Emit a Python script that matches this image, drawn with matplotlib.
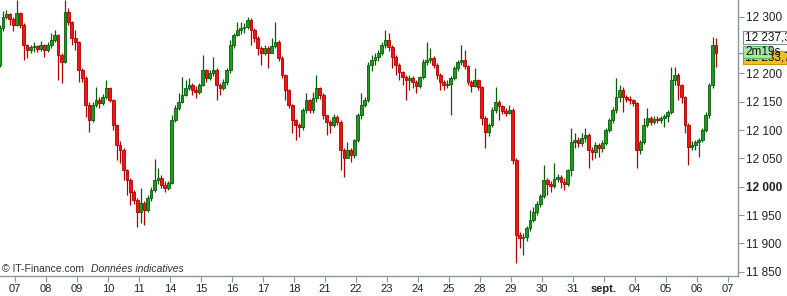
import matplotlib
matplotlib.use("Agg")
import matplotlib.pyplot as plt
from matplotlib.patches import Rectangle

plt.rcParams['font.family'] = ['Liberation Sans', 'DejaVu Sans']

# hourly candles, Aug 4 (partial) -> Sep 6 (partial)
day_labels = ["07", "08", "09", "10", "11", "14", "15", "16", "17", "18", "21", "22",
              "23", "24", "25", "28", "29", "30", "31", "sept.", "04", "05", "06", "07"]
day_counts = [5] + [9] * 22 + [6]
first_open = 12215

closes = [
    12280, 12300, 12305, 12295, 12285,
    12306, 12285, 12250, 12241, 12246, 12248, 12243, 12250, 12241,
    12250, 12259, 12268, 12232, 12220, 12308, 12290, 12262, 12255,
    12206, 12192, 12144, 12118, 12144, 12153, 12148, 12158, 12174,
    12153, 12109, 12074, 12065, 12029, 12012, 11991, 11976, 11955,
    11971, 11959, 11980, 11994, 12012, 12015, 12003, 11998, 12006,
    12118, 12139, 12150, 12162, 12174, 12179, 12171, 12167, 12179,
    12206, 12192, 12200, 12206, 12179, 12174, 12185, 12206, 12250,
    12268, 12277, 12280, 12282, 12294, 12277, 12262, 12245, 12236,
    12245, 12236, 12248, 12255, 12227, 12197, 12171, 12144, 12118,
    12109, 12105, 12135, 12153, 12135, 12156, 12174, 12162, 12127,
    12114, 12109, 12123, 12114, 12065, 12051, 12065, 12056, 12082,
    12127, 12144, 12153, 12215, 12224, 12229, 12236, 12250, 12259,
    12246, 12229, 12215, 12202, 12193, 12188, 12192, 12185, 12178,
    12193, 12220, 12224, 12227, 12215, 12197, 12185, 12179, 12181,
    12192, 12209, 12220, 12224, 12213, 12185, 12178, 12188, 12176,
    12121, 12096, 12109, 12135, 12150, 12142, 12134, 12130, 12135,
    12047, 11915, 11909, 11911, 11927, 11941, 11955, 11969, 11983,
    12012, 12005, 12001, 12013, 12017, 12008, 12005, 12029, 12079,
    12082, 12077, 12086, 12091, 12065, 12061, 12074, 12068, 12077,
    12100, 12118, 12135, 12158, 12171, 12158, 12155, 12153, 12148,
    12065, 12079, 12109, 12121, 12114, 12120, 12118, 12121, 12125,
    12132, 12188, 12197, 12179, 12158, 12109, 12070, 12074, 12079,
    12082, 12100, 12127, 12179, 12250, 12236,
]
highs = [
    12285, 12310, 12312, 12306, 12300,
    12329, 12308, 12288, 12252, 12250, 12255, 12250, 12257, 12252,
    12255, 12271, 12277, 12270, 12235, 12329, 12315, 12292, 12277,
    12257, 12210, 12195, 12150, 12150, 12176, 12158, 12163, 12188,
    12176, 12155, 12110, 12080, 12068, 12032, 12015, 11995, 11980,
    11997, 11975, 11985, 12000, 12049, 12033, 12021, 12010, 12010,
    12127, 12145, 12165, 12193, 12188, 12191, 12183, 12178, 12183,
    12232, 12208, 12206, 12229, 12210, 12183, 12190, 12210, 12259,
    12272, 12290, 12290, 12288, 12300, 12298, 12280, 12265, 12248,
    12250, 12248, 12262, 12290, 12258, 12230, 12198, 12172, 12146,
    12120, 12112, 12138, 12165, 12155, 12167, 12197, 12176, 12165,
    12125, 12118, 12128, 12127, 12118, 12068, 12079, 12068, 12085,
    12130, 12165, 12158, 12220, 12232, 12235, 12241, 12255, 12277,
    12271, 12250, 12232, 12218, 12205, 12197, 12197, 12195, 12188,
    12196, 12225, 12255, 12245, 12230, 12218, 12200, 12188, 12188,
    12195, 12213, 12224, 12250, 12241, 12215, 12188, 12209, 12190,
    12178, 12125, 12112, 12140, 12176, 12153, 12145, 12138, 12144,
    12138, 12050, 11920, 11918, 11930, 11959, 11964, 11975, 11987,
    12038, 12015, 12010, 12042, 12022, 12020, 12015, 12032, 12104,
    12095, 12088, 12095, 12104, 12095, 12070, 12078, 12077, 12082,
    12103, 12122, 12140, 12192, 12179, 12176, 12162, 12160, 12155,
    12150, 12083, 12121, 12139, 12125, 12124, 12124, 12125, 12128,
    12135, 12211, 12211, 12200, 12182, 12160, 12112, 12080, 12082,
    12086, 12104, 12132, 12183, 12264, 12262,
]
lows = [
    12212, 12275, 12296, 12285, 12275,
    12284, 12280, 12224, 12227, 12236, 12238, 12238, 12240, 12229,
    12238, 12245, 12255, 12188, 12183, 12218, 12285, 12250, 12241,
    12185, 12185, 12123, 12096, 12115, 12140, 12139, 12144, 12155,
    12150, 12100, 12047, 12042, 12012, 11985, 11968, 11970, 11929,
    11936, 11932, 11955, 11975, 11990, 12005, 11998, 11991, 11995,
    12004, 12115, 12136, 12148, 12160, 12170, 12162, 12157, 12163,
    12178, 12185, 12188, 12195, 12153, 12162, 12170, 12180, 12200,
    12245, 12265, 12270, 12272, 12278, 12250, 12255, 12232, 12215,
    12232, 12209, 12235, 12245, 12222, 12192, 12153, 12138, 12095,
    12082, 12088, 12100, 12130, 12130, 12130, 12150, 12155, 12120,
    12091, 12095, 12105, 12108, 12029, 12017, 12055, 12043, 12050,
    12078, 12120, 12140, 12150, 12205, 12215, 12222, 12232, 12245,
    12240, 12209, 12197, 12188, 12179, 12153, 12171, 12174, 12165,
    12174, 12190, 12215, 12218, 12210, 12190, 12171, 12171, 12174,
    12127, 12188, 12205, 12215, 12208, 12180, 12167, 12176, 12170,
    12109, 12068, 12090, 12105, 12130, 12118, 12128, 12125, 12128,
    12040, 11865, 11892, 11879, 11905, 11922, 11938, 11950, 11965,
    11980, 11985, 11991, 11998, 12008, 11998, 11994, 12002, 12019,
    12068, 12070, 12072, 12078, 12033, 12047, 12051, 12052, 12062,
    12074, 12096, 12113, 12130, 12150, 12132, 12150, 12146, 12142,
    12033, 12058, 12075, 12105, 12109, 12110, 12112, 12112, 12105,
    12115, 12128, 12180, 12153, 12148, 12095, 12038, 12065, 12065,
    12052, 12078, 12096, 12122, 12175, 12211,
]
y_ticks = [11850, 11900, 11950, 12000, 12050, 12100, 12150, 12200, 12300]
last_price = 12236

W, H = 787, 296
SLOTS = 9

# candle x positions in "trading day" units (tick k = start of day k)
xs = []
for d, n in enumerate(day_counts):
    first = SLOTS - n if d == 0 else 0
    xs += [d - 1 + (first + j + 0.5) / SLOTS for j in range(n)]
opens = [first_open] + closes[:-1]

fig = plt.figure(figsize=(W / 100, H / 100), dpi=100)
ax = fig.add_axes([0, 20 / H, 738 / W, 1 - 20 / H])

axis_col = '#8796a5'
up_face, up_edge = '#1e9b1e', '#0a5a0a'
dn_face, dn_edge = '#f01414', '#b00000'

for x, o, h, l, c in zip(xs, opens, highs, lows, closes):
    up = c >= o
    ax.vlines(x, l, h, color=up_edge if up else dn_edge, lw=0.9, zorder=1)
    ax.bar(x, c - o if c != o else 0.8, bottom=o, width=0.09,
           color=up_face if up else dn_face,
           edgecolor=up_edge if up else dn_edge, lw=0.6, zorder=2)

ax.set_xlim(-15 / 31, (738 - 15) / 31)
ax.set_ylim(11842.4, 12329.4)

for s in ['top', 'left']:
    ax.spines[s].set_visible(False)
for s in ['right', 'bottom']:
    ax.spines[s].set_color(axis_col)
    ax.spines[s].set_linewidth(1.0)

ax.set_xticks(range(len(day_labels)))
ax.set_xticklabels(day_labels, fontsize=8, color='#222222')
for lab in ax.get_xticklabels():
    if lab.get_text() == 'sept.':
        lab.set_fontweight('bold')
ax.tick_params(axis='x', length=4, color=axis_col, pad=1.5)

ax.yaxis.tick_right()
ax.set_yticks(y_ticks + [last_price])
ax.set_yticklabels([f"{v:,}".replace(",", " ") for v in y_ticks] + [""],
                   fontsize=8.5, color='#222222')
for lab in ax.get_yticklabels():
    if lab.get_text() == '12 000':
        lab.set_fontweight('bold')
ax.tick_params(axis='y', length=4, color=axis_col, pad=2)


def fx(px):
    return px / W


def fy(py):
    return 1 - py / H


def price_box(x0, y0, x1, y1, fc, ec, text, z):
    fig.patches.append(Rectangle((fx(x0), fy(y1)), fx(x1) - fx(x0), fy(y0) - fy(y1),
                                 transform=fig.transFigure, fc=fc, ec=ec, lw=0.8,
                                 zorder=z))
    fig.text(fx(x0 + 2), fy((y0 + y1) / 2), text, fontsize=8.5, color='#111111',
             va='center', ha='left', zorder=z + 0.5)


price_box(743, 31, 790, 44, 'white', '#7d8a97', "12 237,3", 5)
price_box(743, 51, 790, 64, '#f0c020', '#c89800', "12 233,7", 6)
price_box(743, 46, 771, 58, '#a8e8a0', '#60b858', "2m19s", 7)

fig.text(fx(2), fy(269), "© IT-Finance.com", fontsize=7.5, color='#333333',
         va='center', ha='left')
fig.text(fx(91), fy(269), "Données indicatives", fontsize=7.5, color='#333333',
         style='italic', va='center', ha='left')

fig.savefig("out.png", dpi=100, facecolor='white')
